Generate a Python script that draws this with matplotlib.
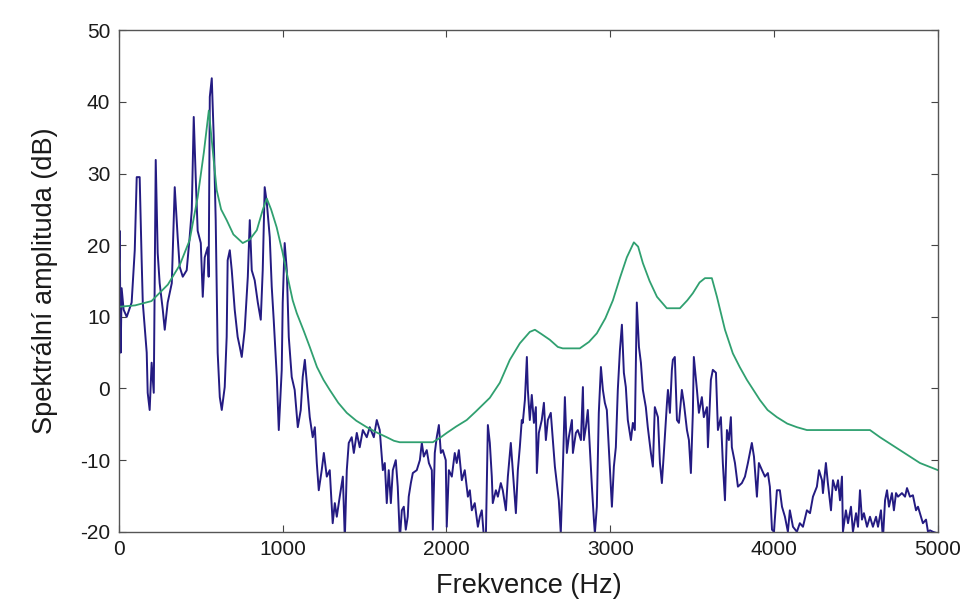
import matplotlib
matplotlib.use('Agg')
import matplotlib.pyplot as plt

# spectrum (Hz, dB), in frequency bands
spec_low = [(0, 15), (6, 22), (12, 5), (18, 14), (30, 11), (49, 10), (79, 12), (98, 19.3), (110, 29.5),
            (128, 29.5), (140, 18), (147, 12), (171, 5), (177, -0.6), (189, -3), (201, 3.6), (214, -0.6),
            (226, 31.9), (238, 18.9), (250, 14.7), (269, 11), (281, 8.2), (299, 12), (324, 14.7),
            (342, 28.1), (360, 21.1), (372, 17), (391, 15.6), (415, 16.5), (433, 21.1), (446, 24.9),
            (458, 37.9), (470, 29.5), (482, 22), (501, 20.3), (513, 12.8), (525, 18.3), (543, 19.7),
            (549, 15.6), (556, 40.7), (568, 43.3), (580, 35.1), (592, 23.5), (604, 5), (617, -1.2),
            (629, -3), (647, 0.2), (659, 7.2), (665, 17.9), (678, 19.3), (690, 16.5), (708, 11),
            (726, 7.2), (739, 5.8), (751, 4.4), (769, 8.2), (788, 15.6), (800, 23.5)]
spec_b = [(812, 16.5), (830, 15.1), (849, 12), (867, 9.6), (879, 16.5), (891, 28.1), (904, 25.9),
          (922, 21.1), (934, 14.2), (946, 9.6), (965, 1.6), (977, -5.8), (995, 2.6), (1001, 12),
          (1013, 20.3), (1026, 16.5), (1038, 7.2), (1056, 1.6), (1074, -0.2), (1093, -5.4), (1111, -3),
          (1123, 1.6), (1136, 4), (1148, 0.8), (1166, -4), (1184, -6.8), (1197, -5.4), (1209, -10.4),
          (1221, -14.2), (1239, -11.4), (1252, -9), (1270, -12.3), (1288, -11.4), (1306, -18.8),
          (1319, -16), (1331, -17.9), (1349, -15.1), (1368, -12.3), (1380, -21), (1392, -11.4),
          (1404, -7.6), (1422, -6.8), (1435, -9), (1453, -6.2), (1471, -8.2), (1490, -5.8), (1514, -6.8),
          (1532, -5.4), (1557, -6.8), (1575, -4.4), (1593, -5.8), (1612, -11.4), (1624, -10.4),
          (1636, -16), (1648, -11.4)]
spec_c = [(1661, -16), (1673, -11.4), (1691, -10), (1703, -13.7), (1716, -21), (1728, -17), (1740, -16.5),
          (1752, -19.7), (1764, -17.9), (1770, -15.1), (1783, -13.2), (1795, -11.8), (1819, -11.4),
          (1838, -10), (1850, -7.6), (1862, -9.5), (1880, -8.6), (1893, -10.4), (1911, -11.4),
          (1917, -19.7), (1929, -9), (1941, -6.8), (1954, -5.1), (1966, -9), (1978, -8.6), (1996, -10),
          (2002, -19.3), (2015, -11.4), (2033, -12.3), (2051, -9), (2063, -10.4), (2076, -8.6),
          (2094, -12.8), (2112, -11.4), (2131, -15.1), (2143, -14.2), (2155, -17), (2173, -16),
          (2192, -19.3), (2204, -17.9), (2216, -17), (2228, -20.5), (2241, -20.5), (2253, -5.1),
          (2265, -7.6), (2277, -12.3), (2283, -16), (2302, -14.2), (2314, -15.1), (2332, -13.2),
          (2344, -14.2), (2363, -17), (2375, -12.3), (2393, -7.6), (2405, -11.4), (2424, -17.4),
          (2436, -11.4), (2448, -8.2)]
spec_d = [(2460, -4.4), (2466, -4.8), (2479, -1.6), (2491, 4.4), (2497, -0.2), (2509, -4.4), (2521, -0.9),
          (2534, -4.8), (2546, -2.6), (2552, -11.8), (2564, -6.2), (2582, -4.4), (2595, -2), (2607, -7.2),
          (2619, -4.4), (2637, -3.4), (2650, -7.2), (2662, -10.9), (2674, -13.2), (2686, -15.6),
          (2698, -20.2), (2711, -10.9), (2723, -1.2), (2735, -9), (2747, -6.8), (2766, -4.4), (2772, -9),
          (2790, -6.2), (2802, -5.8), (2821, -7.2), (2833, 0.2), (2839, -7.2), (2851, -5.4), (2863, -3),
          (2875, -8.2), (2888, -13.7), (2900, -18.3), (2906, -20.2), (2918, -16.5), (2930, -3.4),
          (2943, 3), (2955, -0.2), (2967, -2), (2979, -3), (2991, -8.2), (3010, -16.5), (3022, -10.9),
          (3034, -8.2), (3046, -0.2), (3059, 5.4), (3071, 8.9), (3083, 2.2), (3095, 0.2), (3107, -4.4),
          (3126, -7.2), (3138, -4.8), (3150, -5.8), (3162, 12), (3175, 5.8), (3187, 3.6), (3199, -0.2),
          (3217, -2.6), (3229, -5.4), (3248, -9), (3260, -10.9), (3272, -2.6), (3291, -4)]
spec_e = [(3303, -10.4), (3315, -13.2), (3327, -9), (3346, -2), (3352, -0.2), (3364, -3.4), (3376, 2.6),
          (3382, 4), (3394, 4.4), (3407, -4.4), (3419, -4.8), (3437, -0.2), (3449, -2), (3468, -5.8),
          (3480, -7.2), (3492, -11.8), (3504, -3.4), (3510, 4.4), (3529, -0.2), (3541, -3.4),
          (3559, -1.2), (3571, -4), (3590, -2.6), (3596, -8.2), (3614, 1.2), (3626, 2.6), (3645, 2.2),
          (3657, -5.8), (3675, -4), (3687, -10.4), (3700, -15.6), (3712, -5.8), (3724, -7.2),
          (3736, -4), (3742, -8.2), (3761, -10.4), (3779, -13.7), (3803, -13.2), (3822, -12.3),
          (3840, -10.4), (3864, -7.6), (3877, -9.5), (3895, -15.1), (3907, -10.4), (3926, -11.4),
          (3944, -12.3), (3962, -11.8), (3974, -13.7), (3987, -19.7), (3999, -20), (4017, -14.2),
          (4035, -14.2), (4048, -16.5), (4066, -17.9), (4084, -20), (4096, -17)]
spec_high = [(4115, -19.3), (4139, -20), (4157, -18.8), (4176, -19.3), (4200, -17), (4219, -17.4),
             (4237, -15.1), (4261, -13.7), (4274, -11.4), (4292, -12.8), (4298, -14.6), (4316, -10.4),
             (4328, -13.2), (4347, -17), (4359, -12.8), (4377, -14.2), (4390, -12.8), (4402, -15.6),
             (4414, -12.3), (4420, -20), (4438, -17), (4451, -18.8), (4469, -16.5), (4481, -20),
             (4500, -17.4), (4512, -19.3), (4524, -14.2), (4536, -18.3), (4548, -17.4), (4567, -19.3),
             (4585, -17.9), (4603, -19.3), (4622, -17.9), (4634, -19.3), (4652, -17), (4664, -21),
             (4677, -15.6), (4689, -14.2), (4701, -16.5), (4719, -14.6), (4731, -17), (4744, -14.6),
             (4756, -15.1), (4780, -14.6), (4799, -15.1), (4811, -13.9), (4829, -15.1), (4847, -14.9),
             (4866, -17), (4878, -16.5), (4896, -17.9), (4908, -18.8), (4927, -18.3), (4939, -20),
             (4951, -19.8), (4969, -20), (4994, -20.2)]

# smooth envelope (Hz, dB)
env_hz = [0, 100, 200, 300, 372, 433, 482, 520, 550, 575, 598, 625, 659, 700, 757, 800, 843, 880,
          904, 930, 964, 1000, 1026, 1062, 1087, 1130, 1166, 1210, 1250, 1288, 1340, 1392, 1450, 1514,
          1580, 1636, 1680, 1715, 1917, 1960, 2002, 2060, 2124, 2180, 2265, 2326, 2387, 2448, 2509,
          2540, 2580, 2631, 2680, 2710, 2814, 2870, 2918, 2970, 3016, 3060, 3101, 3144, 3170, 3199,
          3240, 3285, 3345, 3425, 3470, 3504, 3545, 3578, 3620, 3651, 3700, 3748, 3790, 3834, 3913,
          3960, 4017, 4080, 4139, 4200, 4585, 4646, 4768, 4890, 5000]
env_db = [11.4, 11.6, 12.2, 14.5, 17.2, 20.7, 26.7, 33.0, 38.8, 33.0, 27.7, 25.0, 23.5, 21.5, 20.3,
          20.8, 22.1, 25.0, 26.5, 25.0, 22.5, 19.0, 16.1, 12.3, 10.5, 8.0, 5.8, 3.0, 1.2, -0.2, -2.0,
          -3.4, -4.5, -5.4, -6.2, -6.8, -7.3, -7.5, -7.5, -6.9, -6.2, -5.3, -4.4, -3.2, -1.3, 0.8, 4.0,
          6.3, 7.9, 8.2, 7.6, 6.8, 5.8, 5.6, 5.6, 6.5, 7.7, 9.8, 12.3, 15.5, 18.3, 20.4, 19.8, 17.5,
          15.0, 12.8, 11.2, 11.2, 12.3, 13.3, 14.8, 15.4, 15.4, 12.8, 8.2, 4.9, 3.0, 1.2, -1.6, -3.0,
          -4.0, -4.9, -5.4, -5.8, -5.8, -6.8, -8.6, -10.4, -11.4]

x_ticks = [0, 1000, 2000, 3000, 4000, 5000]
y_ticks = [-20, -10, 0, 10, 20, 30, 40, 50]

spectrum = spec_low + spec_b + spec_c + spec_d + spec_e + spec_high
spec_hz = [p[0] for p in spectrum]
spec_db = [p[1] for p in spectrum]

plt.rcParams['font.family'] = ['Liberation Sans', 'DejaVu Sans']
plt.rcParams['axes.unicode_minus'] = False

fig = plt.figure(figsize=(9.65, 6.05), dpi=100)
ax = fig.add_axes([0.123, 0.121, 0.849, 0.829])

ax.plot(spec_hz, spec_db, color='#241b82', linewidth=1.4)
ax.plot(env_hz, env_db, color='#30a070', linewidth=1.3)

ax.set_xlim(0, 5000)
ax.set_ylim(-20, 50)
ax.set_xticks(x_ticks)
ax.set_yticks(y_ticks)
ax.tick_params(direction='in', length=5, width=0.8, top=True, right=True,
               labelsize=15, colors='#444444', labelcolor='#1a1a1a', pad=6)
for spine in ax.spines.values():
    spine.set_edgecolor('#555555')
    spine.set_linewidth(1.0)

ax.set_xlabel('Frekvence (Hz)', fontsize=19.5, color='#1a1a1a', labelpad=10)
ax.set_ylabel('Spektrální amplituda (dB)', fontsize=19.5, color='#1a1a1a', labelpad=16)

fig.savefig('out.png', dpi=100)
